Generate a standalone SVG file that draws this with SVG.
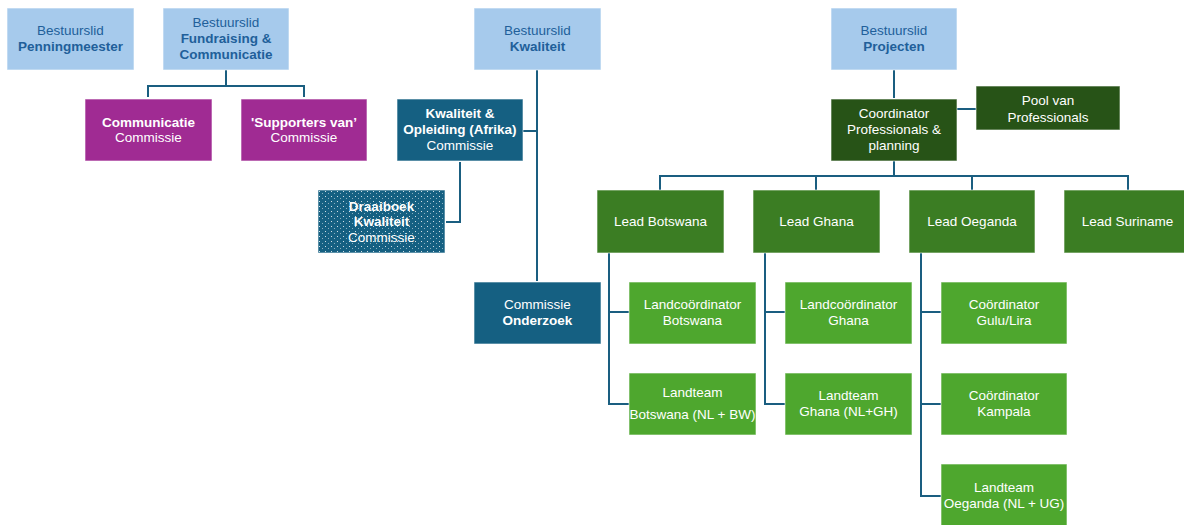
<svg xmlns="http://www.w3.org/2000/svg" width="1184" height="525" viewBox="0 0 1184 525">
<defs>
<pattern id="dots" width="6" height="5" patternUnits="userSpaceOnUse">
<rect class="pb" width="6" height="5" fill="#156082"/>
<rect class="pd" x="1" y="1" width="1" height="1" fill="#ffffff" fill-opacity="0.8"/>
<rect class="pd" x="4" y="3" width="1" height="1" fill="#ffffff" fill-opacity="0.5"/>
</pattern>
<style>
text{font-family:"Liberation Sans",Arial,sans-serif;font-size:13.5px;text-anchor:middle}
.b{font-weight:bold}
g > rect{stroke:#ffffff;stroke-width:1;stroke-opacity:0.6}
.pb,.pd{stroke:none}
.lb rect{fill:#A6CAEC}
.lb text{fill:#215F9A}
.pu rect{fill:#A02B93}
.tl rect{fill:#156082}
.dg rect{fill:#275317}
.mg rect{fill:#3B7D23}
.lg rect{fill:#4EA72E}
.w text{fill:#ffffff}
.conn path{fill:none;stroke:#1A5E80;stroke-width:2}
</style>
</defs>
<rect x="0" y="0" width="1184" height="525" fill="#ffffff"/>
<g class="conn">
<path d="M226 70V86M148 97V86H304V97"/>
<path d="M537 70V281M523 131H537"/>
<path d="M460 162V222H446"/>
<path d="M894 70V98"/>
<path d="M957 109H976"/>
<path d="M894 161V176M660 190V176H1128V190M816 176V190M972 176V190"/>
<path d="M609 253V404H629M609 312H629"/>
<path d="M765 253V404H785M765 312H785"/>
<path d="M921 253V496H941M921 312H941M921 404H941"/>
</g>
<g id="penningmeester" class="lb"><rect x="7" y="8" width="127" height="62"/><text x="70.5" y="35">Bestuurslid</text><text x="70.5" y="51" class="b">Penningmeester</text></g>
<g id="fundraising" class="lb"><rect x="163" y="8" width="126" height="62"/><text x="226" y="27">Bestuurslid</text><text x="226" y="43" class="b">Fundraising &amp;</text><text x="226" y="59" class="b">Communicatie</text></g>
<g id="communicatie" class="pu w"><rect x="85" y="99" width="127" height="62"/><text x="148.5" y="127" class="b">Communicatie</text><text x="148.5" y="142">Commissie</text></g>
<g id="supporters" class="pu w"><rect x="241" y="99" width="126" height="62"/><text x="304" y="127" class="b">'Supporters van’</text><text x="304" y="142">Commissie</text></g>
<g id="bestuurslid-kwaliteit" class="lb"><rect x="474" y="8" width="127" height="62"/><text x="537.5" y="35">Bestuurslid</text><text x="537.5" y="51" class="b">Kwaliteit</text></g>
<g id="kwaliteit-opleiding" class="tl w"><rect x="397" y="99" width="126" height="62"/><text x="460" y="118" class="b">Kwaliteit &amp;</text><text x="460" y="134" class="b">Opleiding (Afrika)</text><text x="460" y="150">Commissie</text></g>
<g id="draaiboek" class="w"><rect x="318" y="190" width="127" height="63" fill="url(#dots)"/><text x="381.5" y="211" class="b">Draaiboek</text><text x="381.5" y="226" class="b">Kwaliteit</text><text x="381.5" y="242">Commissie</text></g>
<g id="onderzoek" class="tl w"><rect x="474" y="282" width="127" height="62"/><text x="537.5" y="309">Commissie</text><text x="537.5" y="325" class="b">Onderzoek</text></g>
<g id="bestuurslid-projecten" class="lb"><rect x="831" y="8" width="126" height="62"/><text x="894" y="35">Bestuurslid</text><text x="894" y="51" class="b">Projecten</text></g>
<g id="coordinator" class="dg w"><rect x="831" y="99" width="126" height="62"/><text x="894" y="118">Coordinator</text><text x="894" y="134">Professionals &amp;</text><text x="894" y="150">planning</text></g>
<g id="pool" class="dg w"><rect x="976" y="86" width="144" height="44"/><text x="1048" y="105">Pool van</text><text x="1048" y="122">Professionals</text></g>
<g id="lead-botswana" class="mg w"><rect x="597" y="190" width="127" height="63"/><text x="660.5" y="226">Lead Botswana</text></g>
<g id="lead-ghana" class="mg w"><rect x="753" y="190" width="127" height="63"/><text x="816.5" y="226">Lead Ghana</text></g>
<g id="lead-oeganda" class="mg w"><rect x="909" y="190" width="126" height="63"/><text x="972" y="226">Lead Oeganda</text></g>
<g id="lead-suriname" class="mg w"><rect x="1064" y="190" width="127" height="63"/><text x="1127.5" y="226">Lead Suriname</text></g>
<g id="landcoordinator-botswana" class="lg w"><rect x="629" y="282" width="127" height="62"/><text x="692.5" y="309">Landcoördinator</text><text x="692.5" y="325">Botswana</text></g>
<g id="landteam-botswana" class="lg w"><rect x="629" y="373" width="127" height="62"/><text x="692.5" y="397">Landteam</text><text x="692.5" y="419">Botswana (NL + BW)</text></g>
<g id="landcoordinator-ghana" class="lg w"><rect x="785" y="282" width="127" height="62"/><text x="848.5" y="309">Landcoördinator</text><text x="848.5" y="325">Ghana</text></g>
<g id="landteam-ghana" class="lg w"><rect x="785" y="373" width="127" height="62"/><text x="848.5" y="400">Landteam</text><text x="848.5" y="416">Ghana (NL+GH)</text></g>
<g id="coordinator-gulu" class="lg w"><rect x="941" y="282" width="126" height="62"/><text x="1004" y="309">Coördinator</text><text x="1004" y="325">Gulu/Lira</text></g>
<g id="coordinator-kampala" class="lg w"><rect x="941" y="373" width="126" height="62"/><text x="1004" y="400">Coördinator</text><text x="1004" y="416">Kampala</text></g>
<g id="landteam-oeganda" class="lg w"><rect x="941" y="464" width="126" height="62"/><text x="1004" y="492">Landteam</text><text x="1004" y="508">Oeganda (NL + UG)</text></g>
</svg>
